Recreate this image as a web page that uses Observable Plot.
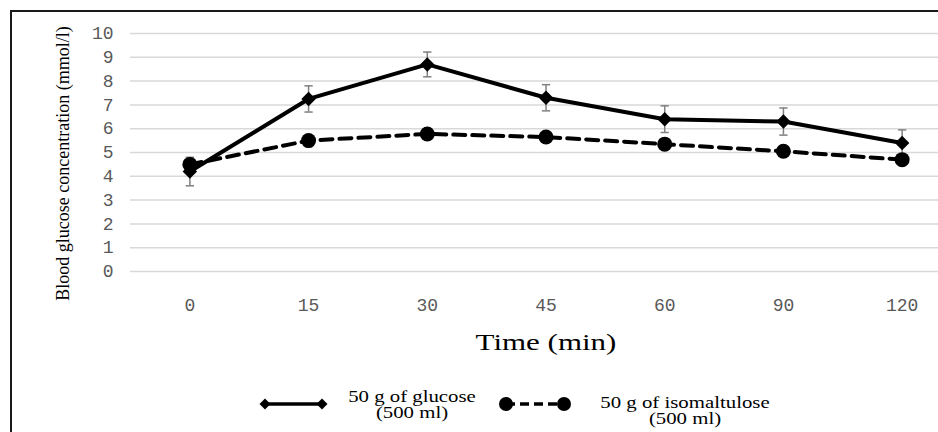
<!DOCTYPE html>
<html>
<head>
<meta charset="utf-8">
<script src="https://cdn.jsdelivr.net/npm/d3@7"></script>
<script src="https://cdn.jsdelivr.net/npm/@observablehq/plot@0.6"></script>
<style>
  html, body { margin: 0; padding: 0; background: #fff; overflow: hidden; width: 938px; height: 432px; }
  #frame { position: absolute; left: 10px; top: 10px; width: 1000px; height: 500px;
           border-left: 2px solid #1a1a1a; border-top: 2px solid #1a1a1a; box-sizing: border-box; }
  #chart { position: absolute; left: 0; top: 0; width: 970px; }
  #chart svg { max-width: none !important; }
  .serif { font-family: "Liberation Serif", "Times New Roman", serif; color: #000; position: absolute; white-space: nowrap; }
  #xlabel { left: 546px; top: 342px; font-size: 24px; transform: translate(-50%, -50%) scaleX(1.29); }
  .lgtext { font-size: 16px; line-height: 16px; text-align: center; transform: translate(-50%, -50%) scaleX(1.3); }
  .sw { position: absolute; }
</style>
</head>
<body>
<div id="frame"></div>
<div id="chart"></div>
<div id="xlabel" class="serif">Time (min)</div>
<svg class="sw" style="left:255px; top:394px" width="80" height="20">
  <line x1="10" y1="10" x2="67" y2="10" stroke="#000" stroke-width="3.5"/>
  <path d="M4.5,10 L10,4.5 L15.5,10 L10,15.5 Z" fill="#000"/>
  <path d="M61.5,10 L67,4.5 L72.5,10 L67,15.5 Z" fill="#000"/>
</svg>
<div class="serif lgtext" style="left:412px; top:405px">50 g of glucose<br>(500 ml)</div>
<svg class="sw" style="left:495px; top:394px" width="80" height="20">
  <line x1="11" y1="10" x2="69" y2="10" stroke="#000" stroke-width="3.5" stroke-dasharray="9,5"/>
  <circle cx="11" cy="10" r="7" fill="#000"/>
  <circle cx="69" cy="10" r="7" fill="#000"/>
</svg>
<div class="serif lgtext" style="left:685px; top:411px">50 g of isomaltulose<br>(500 ml)</div>
<script>
const times = ["0", "15", "30", "45", "60", "90", "120"];
const glucose = [4.2, 7.25, 8.7, 7.3, 6.4, 6.3, 5.4];
const glucoseErr = [0.6, 0.55, 0.52, 0.55, 0.56, 0.57, 0.55];
const isomaltulose = [4.5, 5.5, 5.78, 5.65, 5.35, 5.05, 4.7];
const yTicks = [0, 1, 2, 3, 4, 5, 6, 7, 8, 9, 10];
const yLabel = "Blood glucose concentration (mmol/l)";

const rowsG = times.map((t, i) => ({i, t, y: glucose[i], lo: glucose[i] - glucoseErr[i], hi: glucose[i] + glucoseErr[i]}));
const rowsI = times.map((t, i) => ({i, t, y: isomaltulose[i]}));
const capHalf = 0.035;

const chart = Plot.plot({
  width: 970,
  height: 320,
  marginTop: 33,
  marginBottom: 49,
  marginLeft: 130,
  marginRight: 9,
  style: {fontFamily: "'Liberation Mono', monospace", fontSize: "18px", color: "#595959", background: "transparent", overflow: "visible", maxWidth: "none"},
  x: {type: "linear", domain: [-0.5, 6.5]},
  y: {domain: [0, 10]},
  marks: [
    Plot.gridY(yTicks, {stroke: "#d9d9d9", strokeOpacity: 1, strokeWidth: 1.5}),
    Plot.axisY(yTicks, {tickSize: 0, tickPadding: 17, label: null, fill: "#595959"}),
    Plot.axisX(times.map((t, i) => i), {tickSize: 0, tickPadding: 27, label: null, tickFormat: i => times[i], fill: "#595959"}),
    Plot.ruleX(rowsG, {x: "i", y1: "lo", y2: "hi", stroke: "#808080", strokeWidth: 1.5}),
    Plot.link(rowsG, {x1: d => d.i - capHalf, x2: d => d.i + capHalf, y1: "hi", y2: "hi", stroke: "#808080", strokeWidth: 1.5}),
    Plot.link(rowsG, {x1: d => d.i - capHalf, x2: d => d.i + capHalf, y1: "lo", y2: "lo", stroke: "#808080", strokeWidth: 1.5}),
    Plot.line(rowsI, {x: "i", y: "y", stroke: "#000", strokeWidth: 4, strokeDasharray: "12,7"}),
    Plot.line(rowsG, {x: "i", y: "y", stroke: "#000", strokeWidth: 4}),
    Plot.dot(rowsG, {x: "i", y: "y", symbol: "diamond2", r: 6.5, fill: "#000", stroke: "none"}),
    Plot.dot(rowsI, {x: "i", y: "y", r: 7.5, fill: "#000", stroke: "none"}),
    Plot.text([yLabel], {text: d => d, frameAnchor: "left", textAnchor: "middle", lineAnchor: "middle", rotate: -90, dx: -67, dy: 11,
      fontFamily: "Liberation Serif", fontSize: 18, fill: "#000"})
  ]
});
document.getElementById("chart").appendChild(chart);
</script>
</body>
</html>
